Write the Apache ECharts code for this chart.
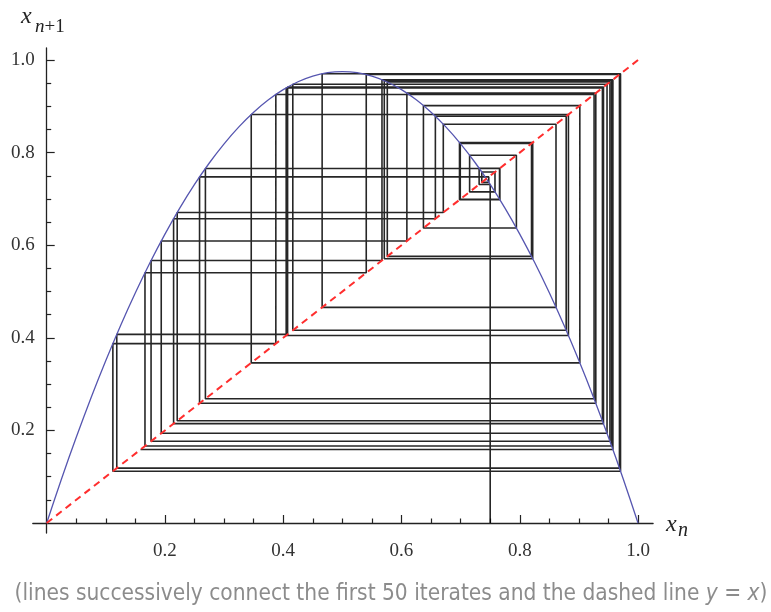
<!DOCTYPE html>
<html><head><meta charset="utf-8">
<script src="https://cdn.jsdelivr.net/npm/echarts@6/dist/echarts.min.js"></script>
<style>html,body{margin:0;padding:0;background:#fff}#c{width:771px;height:612px}</style>
</head><body><div id="c"></div>
<script>
// iterates x0..x50 read from the cobweb
const iterates = [0.75, 0.7313, 0.7664, 0.6981, 0.8219, 0.5709, 0.9554, 0.1662, 0.5404, 0.9686,
  0.1185, 0.4074, 0.9416, 0.2146, 0.6573, 0.8785, 0.4162, 0.9476, 0.1937, 0.6091,
  0.9286, 0.2585, 0.7476, 0.7358, 0.7581, 0.7152, 0.7943, 0.6371, 0.9016, 0.3459,
  0.8823, 0.4050, 0.9398, 0.2207, 0.6707, 0.8613, 0.4658, 0.9704, 0.1119, 0.3875,
  0.9257, 0.2684, 0.7658, 0.6994, 0.8199, 0.5760, 0.9525, 0.1765, 0.5670, 0.9575, 0.1587];
// the map curve
const curveX = [0, 0.025, 0.05, 0.075, 0.1, 0.125, 0.15, 0.175, 0.2, 0.225, 0.25, 0.275, 0.3, 0.325, 0.35, 0.375, 0.4, 0.425, 0.45, 0.475,
  0.5, 0.525, 0.55, 0.575, 0.6, 0.625, 0.65, 0.675, 0.7, 0.725, 0.75, 0.775, 0.8, 0.825, 0.85, 0.875, 0.9, 0.925, 0.95, 0.975, 1];
const curveY = [0, 0.0951, 0.1853, 0.2706, 0.351, 0.4266, 0.4973, 0.5631, 0.624, 0.6801, 0.7313, 0.7776, 0.819, 0.8556, 0.8873, 0.9141, 0.936, 0.9531, 0.9653, 0.9726,
  0.975, 0.9726, 0.9653, 0.9531, 0.936, 0.9141, 0.8873, 0.8556, 0.819, 0.7776, 0.7313, 0.6801, 0.624, 0.5631, 0.4973, 0.4266, 0.351, 0.2706, 0.1853, 0.0951, 0];
const diagX = [0, 1];
const diagY = [0, 1];
const majorTicks = [0.2, 0.4, 0.6, 0.8, 1.0];
const tickLabels = ['0.2', '0.4', '0.6', '0.8', '1.0'];
const minorTicks = [0.05, 0.1, 0.15, 0.25, 0.3, 0.35, 0.45, 0.5, 0.55, 0.65, 0.7, 0.75, 0.85, 0.9, 0.95];
const captionMain = '(lines successively connect the first 50 iterates and the dashed line ';

const cobweb = [[iterates[0], 0]];
for (let n = 0; n < iterates.length - 1; n++) {
  cobweb.push([iterates[n], iterates[n + 1]]);
  cobweb.push([iterates[n + 1], iterates[n + 1]]);
}
const curve = curveX.map((x, i) => [x, curveY[i]]);
const diag = diagX.map((x, i) => [x, diagY[i]]);

const AX = '#222';
const serif = '"Liberation Serif", "DejaVu Serif", serif';
const sans = '"DejaVu Sans Condensed", "DejaVu Sans", sans-serif';
const capFs = 22.5;

function mkAxis(dim, major) {
  const isX = dim === 'x';
  return {
    type: 'value',
    min: isX ? -0.0235 : -0.0216,
    max: isX ? 1.0255 : 1.026,
    position: isX ? 'bottom' : 'left',
    splitLine: { show: false },
    axisLine: { show: major, onZero: true, onZeroAxisIndex: 0, lineStyle: { color: AX, width: 1.3 } },
    axisTick: { show: true, inside: true, length: major ? 8 : 4.5, customValues: major ? majorTicks : minorTicks, lineStyle: { color: AX, width: 1.2 } },
    axisLabel: major ? {
      show: true, customValues: majorTicks,
      formatter: v => tickLabels[majorTicks.findIndex(t => Math.abs(t - v) < 1e-9)],
      margin: isX ? 9 : -2, fontFamily: serif, fontSize: 19, color: '#333'
    } : { show: false }
  };
}

const chart = echarts.init(document.getElementById('c'), null, { renderer: 'canvas' });
chart.setOption({
  animation: false,
  backgroundColor: '#fff',
  grid: { left: 32.8, top: 48, width: 620.3, height: 485, containLabel: false },
  xAxis: [mkAxis('x', true), mkAxis('x', false)],
  yAxis: [mkAxis('y', true), mkAxis('y', false)],
  series: [
    { type: 'line', data: cobweb, xAxisIndex: 0, yAxisIndex: 0, symbol: 'none', z: 2,
      lineStyle: { color: '#000', width: 1.6, opacity: 0.85 } },
    { type: 'line', data: curve, xAxisIndex: 0, yAxisIndex: 0, symbol: 'none', smooth: 0.3, z: 3,
      lineStyle: { color: '#5656b0', width: 1.3 } },
    { type: 'line', data: diag, xAxisIndex: 0, yAxisIndex: 0, symbol: 'none', z: 4,
      lineStyle: { color: '#ff2e2e', width: 2, type: [7, 5] } }
  ],
  graphic: [
    { type: 'text', x: 21, y: 17, style: { text: 'x', font: 'italic 24px ' + serif, fill: AX, align: 'left', verticalAlign: 'middle' } },
    { type: 'text', x: 35, y: 27, style: { text: '{i|n}{r|+1}', rich: { i: { font: 'italic 19px ' + serif, fill: AX }, r: { font: '19px ' + serif, fill: AX } }, fill: AX, align: 'left', verticalAlign: 'middle' } },
    { type: 'text', x: 666, y: 525, style: { text: 'x', font: 'italic 24px ' + serif, fill: AX, align: 'left', verticalAlign: 'middle' } },
    { type: 'text', x: 678, y: 531, style: { text: 'n', font: 'italic 20px ' + serif, fill: AX, align: 'left', verticalAlign: 'middle' } },
    { type: 'text', x: 391, y: 594, style: {
        text: '{a|' + captionMain + '}{i|y}{a| = }{i|x}{a|)}',
        rich: { a: { fontFamily: sans, fontSize: capFs, fill: '#8c8c8c' }, i: { fontFamily: sans, fontStyle: 'italic', fontSize: capFs, fill: '#8c8c8c' } },
        align: 'center', verticalAlign: 'middle' } }
  ]
});
</script></body></html>
